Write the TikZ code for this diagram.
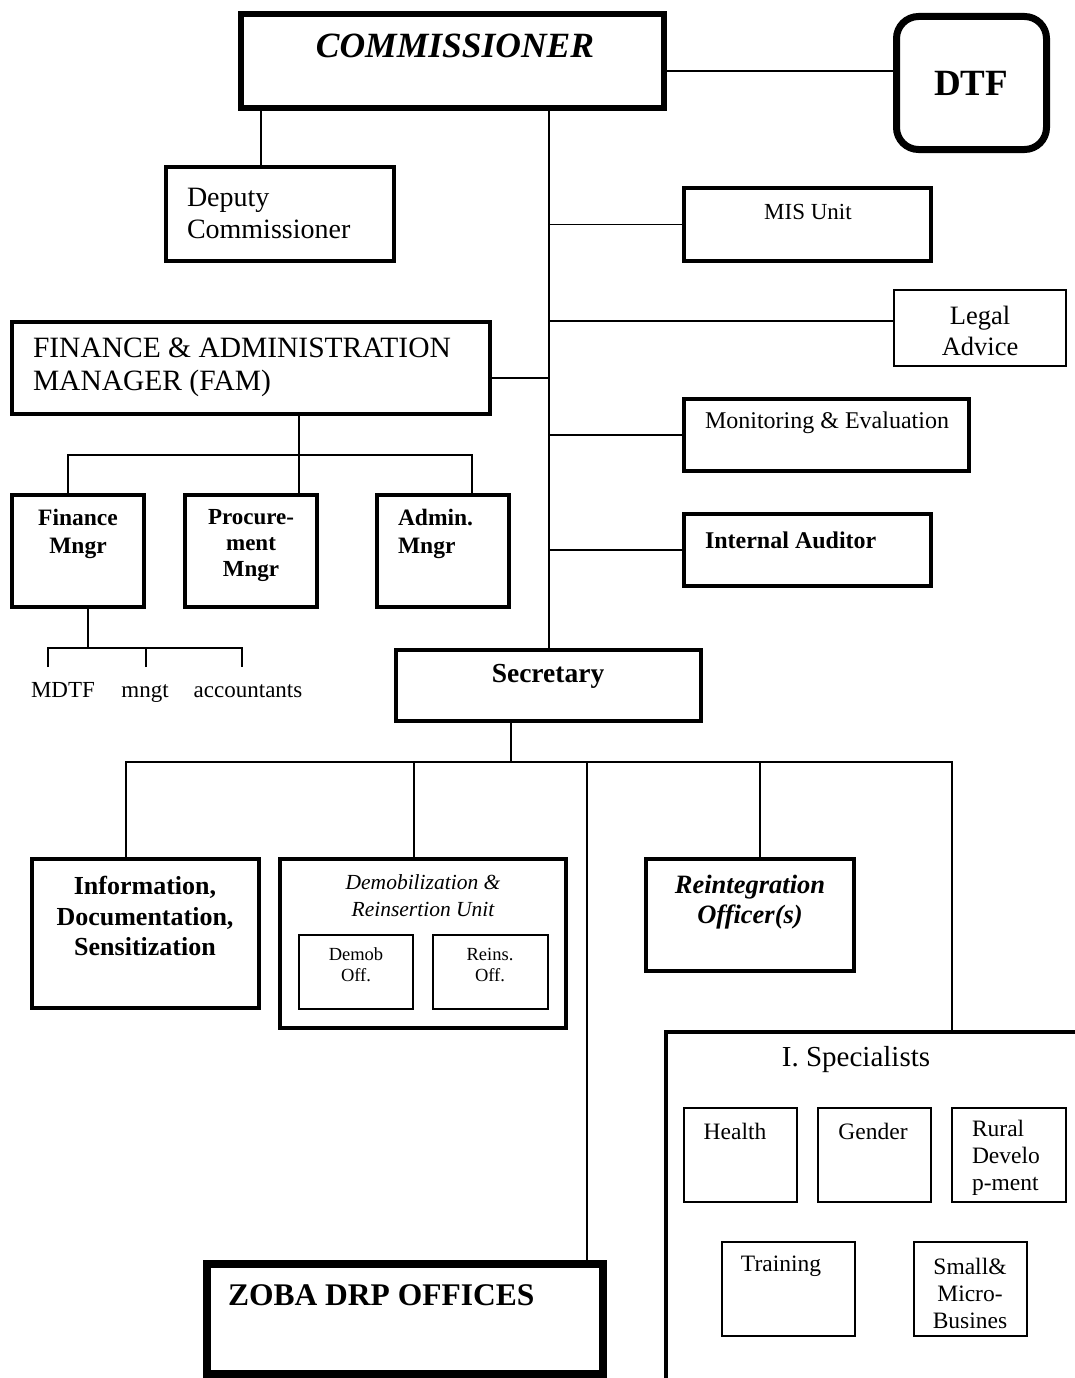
\documentclass[tikz,border=0pt]{standalone}
\usepackage{fontspec}
\setmainfont{Liberation Serif}
\newcommand\setfs[2]{\fontsize{#1pt}{#2pt}\selectfont}
\newcommand\bx[6]{\node[#6, minimum width=#4pt, minimum height=#5pt] (#1) at (#2,#3) {};}
\begin{document}
\begin{tikzpicture}[x=1pt,y=-1pt,
  box/.style={draw, line width=4pt, inner sep=0pt, outer sep=0pt},
  heavybox/.style={box, line width=6pt},
  thinbox/.style={box, line width=2pt},
  conn/.style={line width=1.8pt},
  txt/.style={inner sep=0pt, outer sep=0pt, align=center}]
\clip (0,0) rectangle (1075,1378);
% boxes
\bx{comm}{452.5}{61}{423}{94}{heavybox}
\bx{dtf}{971.5}{83}{150}{133}{heavybox, line width=7pt, rounded corners=22pt}
\bx{dep}{280}{214}{228}{94}{box}
\bx{mis}{807.5}{224.5}{247}{73}{box}
\bx{legal}{980}{328}{172}{76}{thinbox}
\bx{fam}{251}{368}{478}{92}{box}
\bx{me}{826.5}{435}{285}{72}{box}
\bx{ia}{807.5}{550}{247}{72}{box}
\bx{fin}{78}{551}{132}{112}{box}
\bx{proc}{251}{551}{132}{112}{box}
\bx{adm}{443}{551}{132}{112}{box}
\bx{sec}{548.5}{685.5}{305}{71}{box}
\bx{info}{145.5}{933.5}{227}{149}{box}
\bx{dru}{423}{943.5}{286}{169}{box}
\bx{demob}{356}{972}{114}{74}{thinbox}
\bx{reins}{490.5}{972}{115}{74}{thinbox}
\bx{reint}{750}{915}{208}{112}{box}
\bx{spec}{883}{1216}{434}{368}{box}
\bx{health}{740.5}{1155}{113}{94}{thinbox}
\bx{gender}{874.5}{1155}{113}{94}{thinbox}
\bx{rural}{1009}{1155}{114}{94}{thinbox}
\bx{train}{788.5}{1289}{133}{94}{thinbox}
\bx{small}{970.5}{1289}{113}{94}{thinbox}
\bx{zoba}{405}{1319}{396}{110}{heavybox, line width=8pt}
% helper coordinates
\coordinate (depx) at (261,0);
\coordinate (spx) at (549,0);
\coordinate (legy) at (0,321);
\coordinate (famy) at (0,378);
\coordinate (famj) at (299,455);
\coordinate (finx) at (68,0);
\coordinate (admx) at (472,0);
\coordinate (fj) at (88,648);
\coordinate (s1) at (48,667);
\coordinate (s2) at (146,667);
\coordinate (s3) at (242,667);
\coordinate (sj) at (511,762);
\coordinate (infox) at (126,0);
\coordinate (drux) at (414,0);
\coordinate (zobax) at (587,0);
\coordinate (reintx) at (760,0);
\coordinate (specx) at (952,0);
% connectors
\draw[conn] (comm.east) ++(0,10) coordinate (c1) -- (c1 -| dtf.west);
\draw[conn] (comm.south -| depx) -- (dep.north -| depx);
\draw[conn] (comm.south -| spx) -- (sec.north -| spx);
\draw[conn] (mis.west) -- (mis.west -| spx);
\draw[conn] (legal.west |- legy) -- (spx |- legy);
\draw[conn] (me.west) -- (me.west -| spx);
\draw[conn] (ia.west) -- (ia.west -| spx);
\draw[conn] (fam.east |- famy) -- (spx |- famy);
\draw[conn] (fam.south -| famj) -- (proc.north -| famj);
\draw[conn] (fin.north -| finx) |- (famj) -| (adm.north -| admx);
\draw[conn] (fin.south -| fj) -- (fj);
\draw[conn] (s1) |- (fj) -| (s3);
\draw[conn] (s2) -- (s2 |- fj);
\draw[conn] (sec.south -| sj) -- (sj);
\draw[conn] (info.north -| infox) |- (sj) -| (spec.north -| specx);
\draw[conn] (dru.north -| drux) -- (sj -| drux);
\draw[conn] (zoba.north -| zobax) -- (sj -| zobax);
\draw[conn] (reint.north -| reintx) -- (sj -| reintx);
% texts
\node[txt, font=\setfs{35.5}{40}\bfseries\itshape] (tcomm) at (455,46) {COMMISSIONER};
\node[txt, font=\setfs{37}{40}\bfseries] (tdtf) at (971,83) {DTF};
\node[txt, align=left, anchor=west, font=\setfs{28}{32}] (tdep) at (187,213) {Deputy\\Commissioner};
\node[txt, align=left, anchor=west, font=\setfs{29.5}{33}] (tfam) at (33,367) {FINANCE \& ADMINISTRATION\\MANAGER (FAM)};
\node[txt, font=\setfs{23}{26}] (tmis) at (808,212) {MIS Unit};
\node[txt, font=\setfs{26.5}{31}] (tlegal) at (980,331) {Legal\\Advice};
\node[txt, anchor=west, font=\setfs{24}{27}] (tme) at (705,423) {Monitoring \& Evaluation};
\node[txt, anchor=west, font=\setfs{24}{27}\bfseries] (tia) at (705,540) {Internal Auditor};
\node[txt, font=\setfs{23.5}{28}\bfseries] (tfin) at (78,534) {Finance\\Mngr};
\node[txt, font=\setfs{23}{26}\bfseries] (tproc) at (251,546) {Procure-\\ment\\Mngr};
\node[txt, align=left, anchor=west, font=\setfs{23.5}{28}\bfseries] (tadm) at (398,534) {Admin.\\Mngr};
\node[txt, anchor=base, font=\setfs{23}{25}] (tmdtf) at (63,697) {MDTF};
\node[txt, anchor=base, font=\setfs{23}{25}] (tmngt) at (145,697) {mngt};
\node[txt, anchor=base, font=\setfs{23}{25}] (tacc) at (248,697) {accountants};
\node[txt, font=\setfs{27.5}{30}\bfseries] (tsec) at (548,676) {Secretary};
\node[txt, font=\setfs{26}{30.5}\bfseries] (tinfo) at (145,916) {Information,\\Documentation,\\Sensitization};
\node[txt, font=\setfs{21.5}{27}\itshape] (tdru) at (423,896) {Demobilization \&\\Reinsertion Unit};
\node[txt, font=\setfs{18.5}{21}] (tdemob) at (356,965) {Demob\\Off.};
\node[txt, font=\setfs{18.5}{21}] (treins) at (490,965) {Reins.\\Off.};
\node[txt, font=\setfs{26.5}{30}\bfseries\itshape] (treint) at (750,902) {Reintegration\\Officer(s)};
\node[txt, font=\setfs{29}{32}] (tspec) at (856,1060) {I. Specialists};
\node[txt, font=\setfs{23.5}{27}] (thealth) at (735,1131) {Health};
\node[txt, font=\setfs{23.5}{27}] (tgender) at (873,1131) {Gender};
\node[txt, align=left, anchor=west, font=\setfs{23.5}{27}] (trural) at (972,1158) {Rural\\Develo\\p-ment};
\node[txt, font=\setfs{23.5}{27}] (ttrain) at (781,1266) {Training};
\node[txt, font=\setfs{23.5}{27}] (tsmall) at (970,1293) {Small\&\\Micro-\\Busines};
\node[txt, anchor=west, font=\setfs{31.5}{34}\bfseries] (tzoba) at (228,1295) {ZOBA DRP OFFICES};
\end{tikzpicture}
\end{document}
